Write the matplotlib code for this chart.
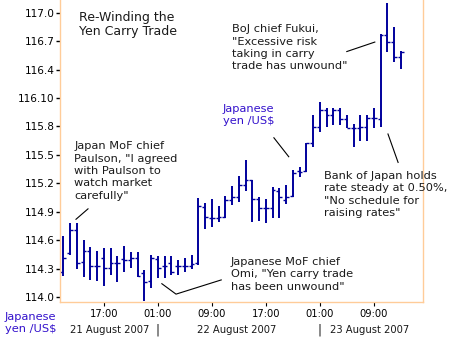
import numpy as np
import matplotlib.pyplot as plt

# hourly USD/JPY bars, 11:00 on 21 Aug 2007 through 13:00 on 23 Aug 2007
hours = list(range(11, 62))
opens = [114.26, 114.46, 114.71, 114.37, 114.48, 114.33, 114.41, 114.31, 114.36, 114.40,
         114.39, 114.41, 114.25, 114.17, 114.40, 114.33, 114.36, 114.33, 114.33, 114.33,
         114.36, 114.95, 114.83, 114.83, 114.84, 115.02, 115.05, 115.18, 115.23, 115.03,
         114.94, 114.94, 115.12, 115.02, 115.07, 115.33, 115.33, 115.62, 115.79, 115.97,
         115.92, 115.97, 115.88, 115.78, 115.78, 115.79, 115.89, 115.88, 116.76, 116.69,
         116.53]
highs = [114.64, 114.78, 114.78, 114.60, 114.53, 114.49, 114.52, 114.52, 114.43, 114.54,
         114.47, 114.47, 114.28, 114.44, 114.43, 114.43, 114.43, 114.39, 114.41, 114.44,
         115.04, 114.99, 115.03, 114.96, 115.07, 115.17, 115.28, 115.45, 115.23, 115.05,
         115.03, 115.16, 115.15, 115.18, 115.34, 115.37, 115.62, 115.92, 116.06, 115.99,
         115.99, 115.99, 115.92, 115.83, 115.92, 115.92, 115.99, 116.78, 117.10, 116.85,
         116.60]
lows = [114.22, 114.44, 114.30, 114.21, 114.18, 114.17, 114.12, 114.23, 114.16, 114.26,
        114.31, 114.21, 113.96, 114.10, 114.20, 114.20, 114.23, 114.23, 114.26, 114.30,
        114.34, 114.72, 114.74, 114.79, 114.83, 114.97, 115.00, 115.12, 114.79, 114.80,
        114.78, 114.83, 114.83, 114.98, 115.05, 115.27, 115.32, 115.58, 115.74, 115.79,
        115.82, 115.81, 115.78, 115.58, 115.65, 115.65, 115.78, 115.79, 116.59, 116.48,
        116.41]
closes = [114.41, 114.71, 114.36, 114.48, 114.33, 114.33, 114.31, 114.36, 114.36, 114.39,
          114.41, 114.22, 114.16, 114.41, 114.31, 114.33, 114.26, 114.33, 114.33, 114.35,
          114.96, 114.84, 114.83, 114.84, 115.02, 115.05, 115.18, 115.23, 115.03, 114.94,
          114.94, 115.13, 115.05, 115.06, 115.31, 115.32, 115.62, 115.79, 115.97, 115.92,
          115.97, 115.88, 115.78, 115.78, 115.79, 115.89, 115.89, 116.76, 116.69, 116.53,
          116.59]

time_ticks = [17, 25, 33, 41, 49, 57]
time_labels = ['17:00', '01:00', '09:00', '17:00', '01:00', '09:00']
price_ticks = [114.0, 114.3, 114.6, 114.9, 115.2, 115.5, 115.8, 116.1, 116.4, 116.7, 117.0]
price_labels = ['114.0', '114.3', '114.6', '114.9', '115.2', '115.5', '115.8', '116.10',
                '116.4', '116.7', '117.0']
dates = ['21 August 2007', '22 August 2007', '23 August 2007']
date_pos = [17.8, 36.7, 56.4]
day_breaks = [24.9, 49.0]

navy = '#00009c'
frame = '#ffcc99'
ink = '#1a1a1a'
blue = '#3311cc'

plt.rcParams['font.family'] = ['DejaVu Sans']

fig = plt.figure(figsize=(4.5, 3.5), dpi=100)
ax = fig.add_axes([60.3 / 450, 48 / 350, (423 - 60.3) / 450, 302 / 350])

h = np.array(hours)
ax.vlines(h, lows, highs, color=navy, lw=1.4)
ax.hlines(opens, h - 0.42, h, color=navy, lw=1.0)
ax.hlines(closes, h, h + 0.42, color=navy, lw=1.0)

ax.set_xlim(10.556, 64.29)
ax.set_ylim(113.947, 117.134)

ax.set_yticks(price_ticks)
ax.set_yticklabels(price_labels)
ax.set_xticks(time_ticks)
ax.set_xticklabels(time_labels)
ax.tick_params(axis='y', length=3, width=1, color='black', pad=1, labelsize=7.6)
ax.tick_params(axis='x', length=3, width=0.8, color='black', pad=2, labelsize=7.2)

for side in ['left', 'right', 'bottom']:
    ax.spines[side].set_color(frame)
    ax.spines[side].set_linewidth(1)
ax.spines['top'].set_visible(False)

# date row under the hour labels
xt = ax.get_xaxis_transform()
for d, x in zip(dates, date_pos):
    ax.text(x, -0.093, d, transform=xt, ha='center', va='center', fontsize=7.2, color=ink,
            clip_on=False)
for x in day_breaks:
    ax.text(x, -0.093, '|', transform=xt, ha='center', va='center', fontsize=8.5, color=ink,
            clip_on=False)

fig.text(5 / 450, 1 - 323 / 350, 'Japanese\nyen /US$', ha='left', va='center',
         fontsize=8.2, color=blue, linespacing=1.3)

# title and news notes
ax.text(13.3, 116.88, 'Re-Winding the\nYen Carry Trade', ha='left', va='center',
        fontsize=9, color=ink, linespacing=1.1)
ax.text(12.6, 115.33, 'Japan MoF chief\nPaulson, "I agreed\nwith Paulson to\nwatch market\ncarefully"',
        ha='left', va='center', fontsize=8.2, color=ink, linespacing=1.3)
ax.text(36.0, 116.63, 'BoJ chief Fukui,\n"Excessive risk\ntaking in carry\ntrade has unwound"',
        ha='left', va='center', fontsize=8.2, color=ink, linespacing=1.3)
ax.text(49.6, 115.08, 'Bank of Japan holds\nrate steady at 0.50%,\n"No schedule for\nraising rates"',
        ha='left', va='center', fontsize=8.2, color=ink, linespacing=1.3)
ax.text(35.8, 114.24, 'Japanese MoF chief\nOmi, "Yen carry trade\nhas been unwound"',
        ha='left', va='center', fontsize=8.2, color=ink, linespacing=1.3)
ax.text(34.6, 115.92, 'Japanese\nyen /US$', ha='left', va='center', fontsize=8.2,
        color=blue, linespacing=1.3)

# leader lines
ax.plot([14.66, 12.88], [114.93, 114.82], color='black', lw=0.8)
ax.plot([42.2, 44.4], [115.68, 115.48], color='black', lw=0.8)
ax.plot([53.0, 57.15], [116.59, 116.69], color='black', lw=0.8)
ax.plot([59.1, 60.6], [115.72, 115.42], color='black', lw=0.8)
ax.plot([25.6, 27.7, 34.4], [114.14, 114.03, 114.18], color='black', lw=0.8)

fig.savefig('out.png', dpi=100)
